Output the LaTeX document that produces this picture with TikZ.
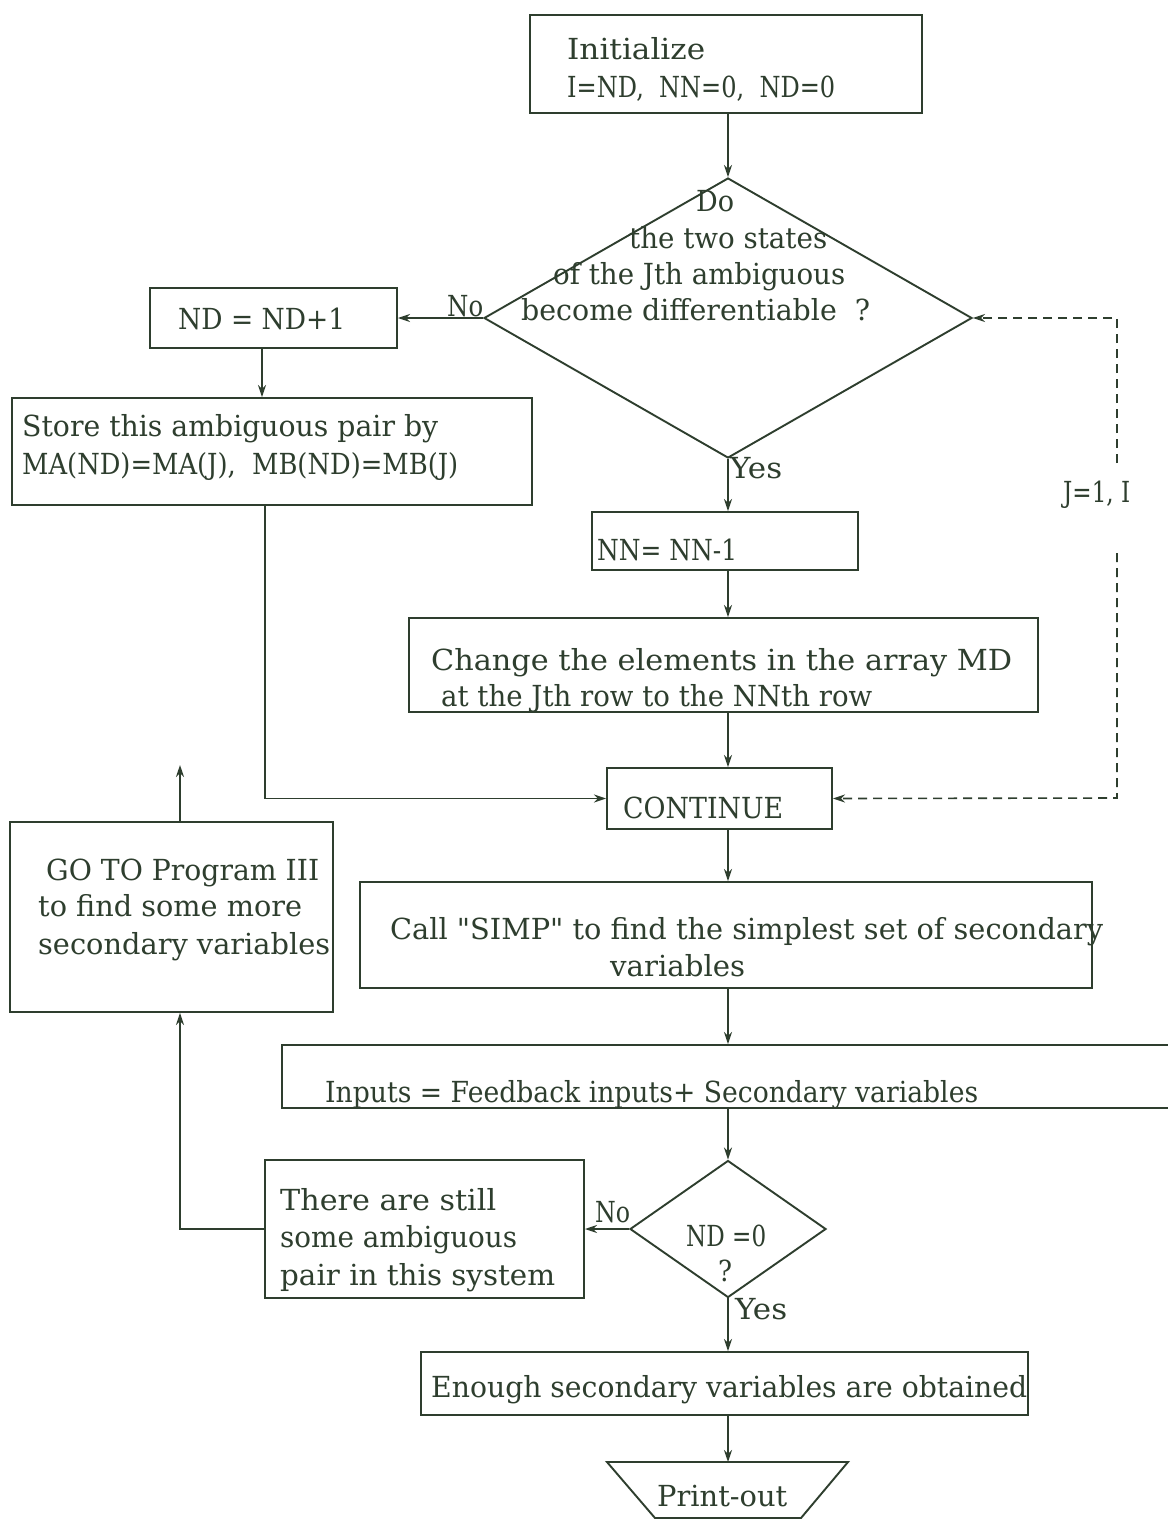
\documentclass[tikz,border=0pt]{standalone}
\usepackage{fontspec}
\setmainfont{DejaVu Serif}
\usepackage{graphicx}
\usetikzlibrary{arrows.meta,fit,shapes.geometric}
\definecolor{ink}{RGB}{46,62,46}
% set a line of text to a given width (pt) keeping its height
\newcommand{\tw}[2]{\resizebox{#1pt}{\height}{#2}}
\begin{document}
\begin{tikzpicture}[x=1pt,y=-1pt,
  box/.style={draw=ink,line width=1.9pt,inner sep=0pt},
  dia/.style={draw=ink,line width=1.9pt,diamond,inner sep=0pt},
  txt/.style={anchor=base west,inner sep=0pt,text=ink,font=\fontsize{29}{34}\selectfont},
  tip/.style={-{Stealth[length=12pt,width=8pt]}},
  arr/.style={draw=ink,line width=1.9pt,tip},
  ln/.style={draw=ink,line width=1.9pt},
  dsh/.style={draw=ink,line width=1.6pt,dash pattern=on 9pt off 6pt,tip}]
\useasboundingbox (0,0) rectangle (1168,1519);
\clip (0,0) rectangle (1168,1519);
\fill[white] (0,0) rectangle (1168,1519);

% main column of the flow
\coordinate (ax) at (728,0);

% boxes
\node[box,fit={(530,15) (922,113)}] (init) {};
\node[dia,minimum width=488,minimum height=280] (q1) at (728,318) {};
\node[box,fit={(150,288) (397,348)}] (nd1) {};
\node[box,fit={(12,398) (532,505)}] (store) {};
\node[box,fit={(592,512) (858,570)}] (nn) {};
\node[box,fit={(409,618) (1038,712)}] (chg) {};
\node[box,fit={(607,768) (832,829)}] (cont) {};
\node[box,fit={(10,822) (333,1012)}] (goto) {};
\node[box,fit={(360,882) (1092,988)}] (simp) {};
\node[box,fit={(282,1045) (1190,1108)}] (inp) {};
\node[dia,minimum width=196,minimum height=137] (q2) at (728,1229) {};
\node[box,fit={(265,1160) (584,1298)}] (there) {};
\node[box,fit={(421,1352) (1028,1415)}] (enough) {};
\coordinate (pout) at (728,1462);
\draw[ln] (607,1462) -- (848,1462) -- (801,1518) -- (655,1518) -- cycle;

% texts
\node[txt] (tinit1) at (567,59) {\tw{138}{Initialize}};
\node[txt] (tinit2) at (567,97) {\tw{268}{I=ND,\ \ NN=0,\ \ ND=0}};
\node[txt] (tq1a) at (696,211) {\tw{38}{Do}};
\node[txt] (tq1b) at (629,248) {\tw{198}{the two states}};
\node[txt] (tq1c) at (553,284) {\tw{292}{of the Jth ambiguous}};
\node[txt] (tq1d) at (521,320) {\tw{349}{become differentiable\ \ ?}};
\node[txt] (tno1) at (447,316) {\tw{36}{No}};
\node[txt] (tnd1) at (178,329) {\tw{167}{ND = ND+1}};
\node[txt] (tst1) at (22,436) {\tw{416}{Store this ambiguous pair by}};
\node[txt] (tst2) at (22,474) {\tw{436}{MA(ND)=MA(J),\ \ MB(ND)=MB(J)}};
\node[txt] (tyes1) at (730,478) {\tw{52}{Yes}};
\node[txt] (tloop) at (1063,502) {\tw{67}{J=1, I}};
\node[txt] (tnn) at (597,560) {\tw{140}{NN= NN-1}};
\node[txt] (tch1) at (431,670) {\tw{581}{Change the elements in the array MD}};
\node[txt] (tch2) at (441,706) {\tw{431}{at the Jth row to the NNth row}};
\node[txt] (tcont) at (623,818) {\tw{160}{CONTINUE}};
\node[txt] (tgo1) at (46,880) {\tw{273}{GO TO Program III}};
\node[txt] (tgo2) at (38,916) {\tw{264}{to find some more}};
\node[txt] (tgo3) at (38,954) {\tw{292}{secondary variables}};
\node[txt] (tsi1) at (390,939) {\tw{713}{Call \textquotedbl SIMP\textquotedbl\ to find the simplest set of secondary}};
\node[txt] (tsi2) at (610,976) {\tw{135}{variables}};
\node[txt] (tinp) at (325,1102) {\tw{653}{Inputs = Feedback inputs+ Secondary variables}};
\node[txt] (tth1) at (280,1210) {\tw{216}{There are still}};
\node[txt] (tth2) at (280,1247) {\tw{237}{some ambiguous}};
\node[txt] (tth3) at (280,1285) {\tw{275}{pair in this system}};
\node[txt] (tno2) at (595,1222) {\tw{35}{No}};
\node[txt] (tq2a) at (686,1246) {\tw{80}{ND =0}};
\node[txt] (tq2b) at (718,1281) {\tw{14}{?}};
\node[txt] (tyes2) at (735,1319) {\tw{52}{Yes}};
\node[txt] (ten) at (431,1397) {\tw{596}{Enough secondary variables are obtained}};
\node[txt] (tpr) at (657,1506) {\tw{130}{Print-out}};

% connectors
\draw[arr] (init.south -| ax) -- (q1.north);
\draw[arr] (q1.west) -- (nd1.east);
\draw[arr] ([xshift=-11.5pt]nd1.south) -- ([xshift=-11.5pt]nd1.south |- store.north);
\draw[arr] ([xshift=-7pt]store.south) |- (cont.west);
\draw[arr] (q1.south) -- (q1.south |- nn.north);
\draw[arr] (ax |- nn.south) -- (ax |- chg.north);
\draw[arr] (ax |- chg.south) -- (ax |- cont.north);
\draw[arr] (ax |- cont.south) -- (ax |- simp.north);
\draw[arr] (ax |- simp.south) -- (ax |- inp.north);
\draw[arr] (ax |- inp.south) -- (q2.north);
\draw[arr] (q2.west) -- (q2.west -| there.east);
\draw[arr] (there.west) -| ([xshift=8.5pt]goto.south);
\coordinate (up) at (180,765);
\draw[arr] ([xshift=8.5pt]goto.north) -- (up);
\draw[arr] (q2.south) -- (q2.south |- enough.north);
\draw[arr] (ax |- enough.south) -- (pout);

% dashed loop back
\coordinate (jt) at (1117,318);
\coordinate (jg1) at (1117,463);
\coordinate (jg2) at (1117,553);
\coordinate (jb) at (1117,798);
\draw[dsh] (jg1) -- (jt) -- (q1.east);
\draw[dsh] (jg2) -- (jb) -- (cont.east);
\end{tikzpicture}
\end{document}
